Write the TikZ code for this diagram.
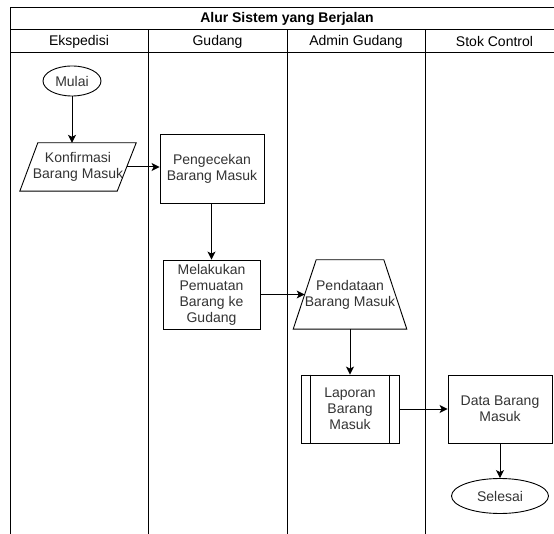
\documentclass[tikz,border=0pt]{standalone}
\usepackage{fontspec}
\setmainfont{Liberation Sans}
\usetikzlibrary{shapes.geometric,arrows.meta,calc}
\definecolor{txt}{HTML}{333333}
\tikzset{
  lane/.style={draw=black, line width=1pt},
  box/.style={draw=black, line width=0.9pt, rectangle, align=center, inner sep=1pt, text=txt, font=\fontsize{14}{16}\selectfont},
  plain/.style={rectangle, align=center, inner sep=0pt, text=txt, font=\fontsize{14}{16}\selectfont},
  term/.style={draw=black, line width=0.9pt, ellipse, align=center, inner sep=0pt, text=txt, font=\fontsize{14}{16}\selectfont},
  hdr/.style={font=\fontsize{14}{16}\selectfont, text=black, inner sep=0pt},
  flow/.style={draw=black, line width=1pt, -{Stealth[length=8pt,width=8pt,inset=2pt]}},
  outline/.style={draw=black, line width=0.9pt}
}
\begin{document}
\begin{tikzpicture}[x=1pt,y=-1pt]
\useasboundingbox (0,0) rectangle (554,534);
\clip (0,0) rectangle (554,534);
% swimlane frame
\draw[lane] (10,534) -- (10,8) -- (570,8);
\draw[lane] (10,30) -- (570,30);
\draw[lane] (10,53) -- (570,53);
\draw[lane] (148,30) -- (148,534);
\draw[lane] (287,30) -- (287,534);
\draw[lane] (425,30) -- (425,534);
\node[hdr, font=\fontsize{14}{16}\selectfont\bfseries] (title) at (287,19) {Alur Sistem yang Berjalan};
\node[hdr] (h1) at (79,42) {Ekspedisi};
\node[hdr] (h2) at (217.5,42) {Gudang};
\node[hdr] (h3) at (356,42) {Admin Gudang};
\node[hdr] (h4) at (494.5,42) {Stok Control};
% nodes
\node[term, minimum width=58pt, minimum height=30pt] (mulai) at (72,81) {Mulai};
\node[plain, minimum width=98pt, minimum height=48pt] (konf) at (78,167) {Konfirmasi\\Barang Masuk};
\draw[outline] ($(konf.north west)+(9,0)$) -- ($(konf.north east)+(9,0)$) -- ($(konf.south east)+(-10,0)$) -- ($(konf.south west)+(-9,0)$) -- cycle;
\node[box, minimum width=104pt, minimum height=69pt] (peng) at (212,168.5) {Pengecekan\\Barang Masuk};
\node[box, minimum width=97pt, minimum height=69pt] (muat) at (211.5,294.5) {Melakukan\\Pemuatan\\Barang ke\\Gudang};
\node[plain, minimum width=81pt, minimum height=69pt] (pend) at (350,294.5) {Pendataan\\Barang Masuk};
\draw[outline] ($(pend.north west)+(11.5,0)$) -- ($(pend.north east)+(-11.5,0)$) -- ($(pend.south east)+(11.5,0)$) -- ($(pend.south west)+(-11.5,0)$) -- cycle;
\node[box, minimum width=98pt, minimum height=68pt] (lap) at (350,409) {Laporan\\Barang\\Masuk};
\draw[outline] ($(lap.north west)+(10,0)$) -- ($(lap.south west)+(10,0)$);
\draw[outline] ($(lap.north east)+(-10,0)$) -- ($(lap.south east)+(-10,0)$);
\node[box, minimum width=104pt, minimum height=68pt] (data) at (500,409) {Data Barang\\Masuk};
\node[term, minimum width=97pt, minimum height=35pt] (selesai) at (500,496) {Selesai};
% connectors
\draw[flow] (mulai) -- (konf.north -| mulai);
\draw[flow] (konf.east) -- (peng.west |- konf.east);
\draw[flow] (peng.south -| muat.north) -- (muat.north);
\draw[flow] (muat.east) -- (pend.west);
\draw[flow] (pend.south) -- (lap.north);
\draw[flow] (lap.east) -- (data.west);
\draw[flow] (data.south) -- (selesai.north);
\end{tikzpicture}
\end{document}
